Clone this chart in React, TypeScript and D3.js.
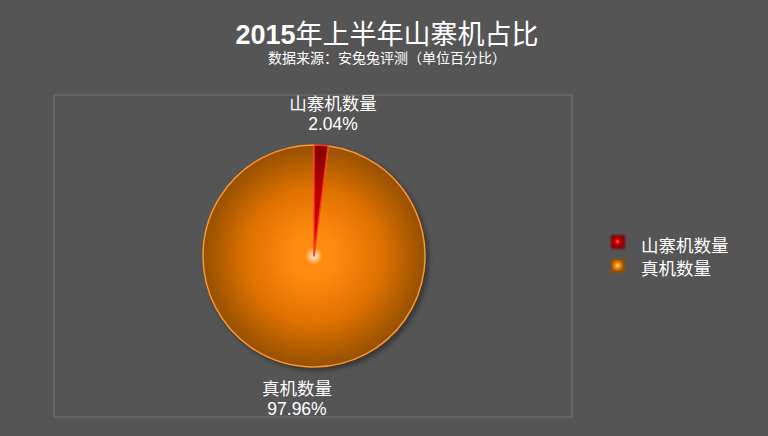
import React from "react";
import * as d3 from "d3";

const categories = ["山寨机数量", "真机数量"];
const values = [2.04, 97.96];
const labels = ["2.04%", "97.96%"];
const titleBold = "2015";
const titleRest = "年上半年山寨机占比";
const subtitle = "数据来源：安兔兔评测（单位百分比）";

const W = 768;
const H = 436;
const cx = 314;
const cy = 256;
const R = 111;

const colors = [
  { base: "#d00000", mid: "#b80000", dark: "#800000", light: "#ff7050", stroke: "#ff3a1a" },
  { base: "#ff8a10", mid: "#e07200", dark: "#965000", light: "#fff2e2", stroke: "#ff9628" },
];

export default function App() {
  const pie = d3.pie<number>().sort(null).startAngle(0).endAngle(2 * Math.PI)(values);
  const arc = d3.arc<d3.PieArcDatum<number>>().innerRadius(0).outerRadius(R);
  const labelPos = [
    { x: 333, y1: 110, y2: 130 },
    { x: 297, y1: 395, y2: 415 },
  ];
  const font = "'Liberation Sans', Arial, 'Noto Sans CJK SC', sans-serif";
  return (
    <svg width={W} height={H} style={{ position: "absolute", left: 0, top: 0, display: "block" }}>
      <defs>
        {colors.map((c, i) => (
          <radialGradient key={i} id={`g${i}`} cx={0} cy={0} r={R} gradientUnits="userSpaceOnUse">
            <stop offset="0" stopColor={c.light} />
            <stop offset="0.08" stopColor={c.base} />
            <stop offset="0.2" stopColor={c.base} />
            <stop offset="0.6" stopColor={c.mid} />
            <stop offset="1" stopColor={c.dark} />
          </radialGradient>
        ))}
        {colors.map((c, i) => (
          <radialGradient key={"l" + i} id={`lg${i}`} cx="0.5" cy="0.5" r="0.6">
            <stop offset="0" stopColor={c.light} />
            <stop offset="0.35" stopColor={c.base} />
            <stop offset="1" stopColor={c.dark} />
          </radialGradient>
        ))}
        <filter id="shadow" x="-20%" y="-20%" width="140%" height="140%">
          <feGaussianBlur stdDeviation="2" />
        </filter>
        <filter id="glow" x="-50%" y="-50%" width="200%" height="200%">
          <feGaussianBlur stdDeviation="1.2" />
        </filter>
      </defs>
      <rect x={0} y={0} width={W} height={H} fill="#555555" />
      <rect x={54} y={95} width={518} height={322} fill="none" stroke="#6b6b6b" strokeWidth={1.5} />
      <text textAnchor="middle" fill="#ffffff" fontFamily={font}>
        <tspan x={387} y={44} fontSize={27} fontWeight="bold">{titleBold}</tspan>
        <tspan fontSize={27} fontWeight="normal">{titleRest}</tspan>
      </text>
      <text x={387} y={63} textAnchor="middle" fill="#ffffff" fontFamily={font} fontSize={14}>
        {subtitle}
      </text>
      <circle cx={cx + 3} cy={cy + 3} r={R + 1} fill="#2a2a2a" opacity={0.7} filter="url(#shadow)" />
      <g transform={`translate(${cx},${cy})`}>
        {pie
          .slice()
          .reverse()
          .map((d) => (
            <path
              key={d.index}
              d={arc(d) || ""}
              fill={`url(#g${d.index})`}
              stroke={colors[d.index].stroke}
              strokeWidth={1.5}
              strokeLinejoin="round"
            />
          ))}
      </g>
      {categories.map((c, i) => (
        <g key={c} fontFamily={font} fill="#ffffff" textAnchor="middle" fontSize={17.5}>
          <text x={labelPos[i].x} y={labelPos[i].y1}>{c}</text>
          <text x={labelPos[i].x} y={labelPos[i].y2}>{labels[i]}</text>
        </g>
      ))}
      {categories.map((c, i) => (
        <g key={"leg" + c}>
          <rect x={611} y={235 + i * 24} width={14} height={14} fill={colors[i].dark} filter="url(#glow)" opacity={0.9} />
          <rect x={612} y={236 + i * 24} width={11} height={11} fill={`url(#lg${i})`} />
          <text x={641} y={252 + i * 23} fill="#ffffff" fontFamily={font} fontSize={17.5}>
            {c}
          </text>
        </g>
      ))}
    </svg>
  );
}
